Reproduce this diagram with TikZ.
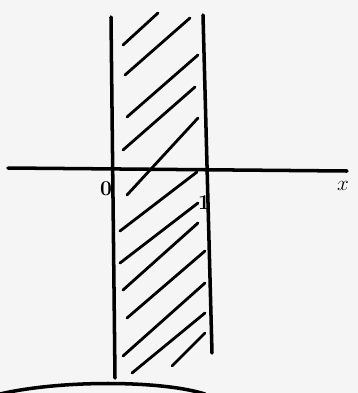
\documentclass[tikz,border=0pt]{standalone}
\usetikzlibrary{positioning}

\begin{document}
\begin{tikzpicture}[x=0.02cm,y=-0.02cm,line width=2pt,line cap=round]
        \fill[black!4] (0,0) rectangle (358,393);
        \useasboundingbox (0,0) rectangle (358,393);
        \coordinate (ax1) at (8,168);
        \coordinate (ax2) at (347,171);
        \coordinate (l1) at (111,17);
        \coordinate (l2) at (115,378);
        \coordinate (r1) at (203,15);
        \coordinate (r2) at (212,353);
        \coordinate (c1) at (0,394);
        \coordinate (c2) at (205,394);
        \node[font=\large\bfseries] (zero) at (106,189) {0};
        \node[font=\large\bfseries] (one) at (204,203) {1};
        \node[font=\large] (xlab) at (343,186) {$x$};
        \draw (ax1) -- (ax2);
        \draw (l1) -- (l2);
        \draw (r1) -- (r2);
        \draw (c1) .. controls (60,380) and (160,380) .. (c2);
        \draw[line width=1.6pt] (123,45) -- (158,13);
        \draw[line width=1.6pt] (125,75) -- (190,18);
        \draw[line width=1.6pt] (127,117) -- (198,55);
        \draw[line width=1.6pt] (123,150) -- (195,87);
        \draw[line width=1.6pt] (127,195) -- (198,118);
        \draw[line width=1.6pt] (120,231) -- (197,172);
        \draw[line width=1.6pt] (120,263) -- (198,203);
        \draw[line width=1.6pt] (123,290) -- (198,223);
        \draw[line width=1.6pt] (127,318) -- (205,251);
        \draw[line width=1.6pt] (123,356) -- (205,283);
        \draw[line width=1.6pt] (132,373) -- (205,313);
        \draw[line width=1.6pt] (172,366) -- (205,333);
    \end{tikzpicture}
\end{document}
